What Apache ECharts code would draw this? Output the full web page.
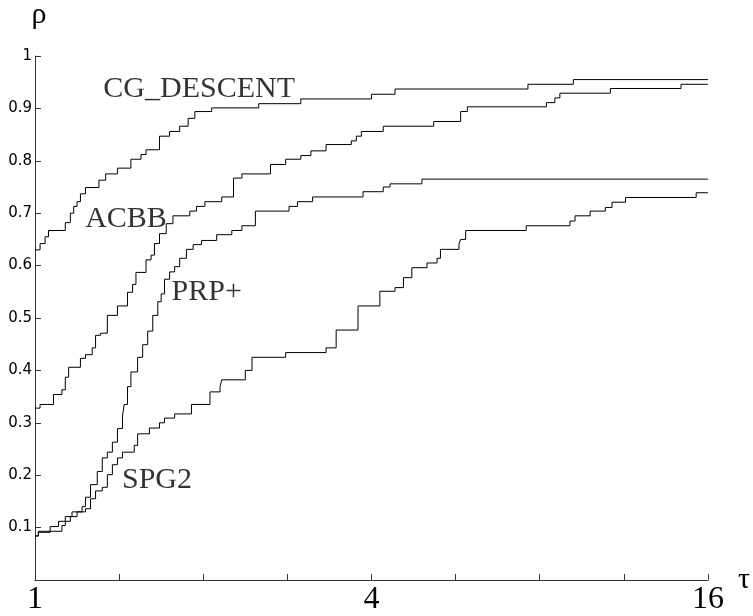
<!DOCTYPE html>
<html>
<head>
<meta charset="utf-8">
<script src="https://cdn.jsdelivr.net/npm/echarts@6/dist/echarts.min.js"></script>
<style>
  html, body { margin: 0; padding: 0; background: #fff; }
  #main { width: 753px; height: 616px; }
</style>
</head>
<body>
<div id="main"></div>
<script>
// performance profile, x axis is log2(tau)
var cgLog2Tau = [0, 0.03, 0.06, 0.08, 0.18, 0.21, 0.23, 0.25, 0.27, 0.30, 0.38, 0.42, 0.49, 0.57, 0.63, 0.66, 0.74, 0.80, 0.86, 0.91, 0.95, 1.05, 1.33, 1.58, 2.00, 2.14, 2.93, 3.20, 4];
var cgRho = [0.63, 0.642, 0.655, 0.667, 0.682, 0.700, 0.713, 0.722, 0.737, 0.749, 0.763, 0.775, 0.786, 0.803, 0.812, 0.821, 0.847, 0.856, 0.866, 0.881, 0.894, 0.901, 0.909, 0.918, 0.927, 0.937, 0.946, 0.955, 0.955];

var acbbLog2Tau = [0, 0.03, 0.11, 0.16, 0.18, 0.20, 0.27, 0.30, 0.34, 0.36, 0.39, 0.43, 0.49, 0.55, 0.58, 0.60, 0.66, 0.69, 0.71, 0.74, 0.78, 0.82, 0.92, 0.96, 1.01, 1.11, 1.18, 1.23, 1.40, 1.49, 1.58, 1.64, 1.73, 1.88, 1.91, 1.94, 2.07, 2.37, 2.53, 2.57, 3.04, 3.09, 3.12, 3.42, 3.84, 4];
var acbbRho = [0.328, 0.335, 0.354, 0.363, 0.387, 0.406, 0.423, 0.43, 0.443, 0.467, 0.471, 0.505, 0.523, 0.549, 0.564, 0.587, 0.611, 0.62, 0.642, 0.661, 0.68, 0.695, 0.704, 0.713, 0.722, 0.731, 0.767, 0.775, 0.793, 0.803, 0.81, 0.819, 0.831, 0.838, 0.847, 0.856, 0.866, 0.875, 0.894, 0.903, 0.911, 0.92, 0.929, 0.938, 0.946, 0.946];

var prpLog2Tau = [0, 0.02, 0.09, 0.14, 0.18, 0.22, 0.28, 0.30, 0.33, 0.37, 0.40, 0.43, 0.46, 0.49, 0.52, 0.53, 0.55, 0.57, 0.61, 0.64, 0.67, 0.70, 0.73, 0.75, 0.77, 0.80, 0.83, 0.86, 0.90, 0.94, 0.99, 1.08, 1.17, 1.23, 1.31, 1.51, 1.56, 1.65, 1.95, 2.07, 2.11, 2.30, 4];
var prpRho = [0.084, 0.091, 0.102, 0.112, 0.121, 0.13, 0.14, 0.158, 0.182, 0.207, 0.233, 0.244, 0.263, 0.289, 0.313, 0.335, 0.369, 0.397, 0.425, 0.449, 0.475, 0.505, 0.531, 0.546, 0.574, 0.588, 0.598, 0.614, 0.631, 0.64, 0.648, 0.659, 0.667, 0.676, 0.704, 0.713, 0.722, 0.731, 0.741, 0.75, 0.756, 0.765, 0.765];

var spgLog2Tau = [0, 0.02, 0.16, 0.18, 0.21, 0.25, 0.30, 0.33, 0.36, 0.40, 0.43, 0.46, 0.49, 0.52, 0.59, 0.61, 0.68, 0.74, 0.77, 0.83, 0.93, 1.04, 1.10, 1.11, 1.25, 1.29, 1.49, 1.73, 1.79, 1.92, 2.05, 2.14, 2.19, 2.24, 2.33, 2.39, 2.41, 2.52, 2.53, 2.56, 2.92, 3.18, 3.21, 3.30, 3.39, 3.43, 3.51, 3.93, 4];
var spgRho = [0.084, 0.093, 0.104, 0.112, 0.121, 0.13, 0.136, 0.155, 0.17, 0.177, 0.201, 0.22, 0.233, 0.244, 0.257, 0.279, 0.29, 0.3, 0.309, 0.317, 0.335, 0.359, 0.369, 0.382, 0.4, 0.425, 0.434, 0.443, 0.477, 0.523, 0.551, 0.558, 0.577, 0.596, 0.605, 0.614, 0.631, 0.641, 0.65, 0.667, 0.676, 0.685, 0.695, 0.704, 0.711, 0.721, 0.73, 0.739, 0.739];

// curve names written on the plot, placed in data units
var labelNames = ['CG_DESCENT', 'ACBB', 'PRP+', 'SPG2'];
var labelX = [0.976, 0.541, 1.021, 0.725];
var labelY = [0.936, 0.688, 0.550, 0.190];

// x tick labels shown (others blank)
var xTickLabels = {0: '1', 2: '4', 4: '16'};

function pairs(xs, ys) {
    var out = [];
    for (var i = 0; i < xs.length; i++) {
        out.push([xs[i], ys[i]]);
    }
    return out;
}

function stepSeries(name, xs, ys) {
    return {
        name: name,
        type: 'line',
        step: 'end',
        showSymbol: false,
        data: pairs(xs, ys),
        lineStyle: { color: '#000', width: 1 },
        z: 3
    };
}

var labelData = [];
for (var i = 0; i < labelNames.length; i++) {
    labelData.push({ value: [labelX[i], labelY[i]], name: labelNames[i] });
}

var serifFont = "'Liberation Serif', 'Times New Roman', serif";

var myChart = echarts.init(document.getElementById('main'));
var option = {
    animation: false,
    backgroundColor: '#fff',
    grid: { left: 35, right: 42, top: 51, bottom: 29, containLabel: false },
    xAxis: {
        type: 'value',
        min: 0,
        max: 4,
        interval: 0.5,
        name: 'τ',
        nameLocation: 'end',
        nameGap: 30,
        nameTextStyle: { fontFamily: serifFont, fontSize: 30, color: '#000', verticalAlign: 'middle', padding: [0, 0, 8, 0] },
        axisLine: { lineStyle: { color: '#333', width: 1 } },
        axisTick: { inside: true, length: 6, lineStyle: { color: '#333' } },
        axisLabel: {
            margin: 4,
            fontFamily: serifFont,
            fontSize: 32,
            color: '#000',
            formatter: function (v) { return xTickLabels[v] || ''; }
        },
        splitLine: { show: false }
    },
    yAxis: {
        type: 'value',
        min: 0,
        max: 1,
        interval: 0.1,
        name: 'ρ',
        nameLocation: 'end',
        nameGap: 26,
        nameTextStyle: { fontFamily: serifFont, fontSize: 30, color: '#000', padding: [0, 0, 0, 8] },
        axisLine: { show: true, lineStyle: { color: '#333', width: 1 } },
        axisTick: { show: true, inside: true, length: 6, lineStyle: { color: '#333' } },
        axisLabel: {
            margin: 3,
            fontFamily: "'DejaVu Sans', sans-serif",
            fontSize: 15,
            color: '#000',
            formatter: function (v) { return v === 0 ? '' : String(Math.round(v * 10) / 10); }
        },
        splitLine: { show: false }
    },
    series: [
        stepSeries('CG_DESCENT', cgLog2Tau, cgRho),
        stepSeries('ACBB', acbbLog2Tau, acbbRho),
        stepSeries('PRP+', prpLog2Tau, prpRho),
        stepSeries('SPG2', spgLog2Tau, spgRho),
        {
            name: 'labels',
            type: 'scatter',
            symbolSize: 1,
            itemStyle: { color: 'transparent' },
            data: labelData,
            z: 5,
            label: {
                show: true,
                position: 'inside',
                formatter: '{b}',
                fontFamily: serifFont,
                fontSize: 30,
                color: '#000'
            }
        }
    ]
};
myChart.setOption(option);
</script>
</body>
</html>
